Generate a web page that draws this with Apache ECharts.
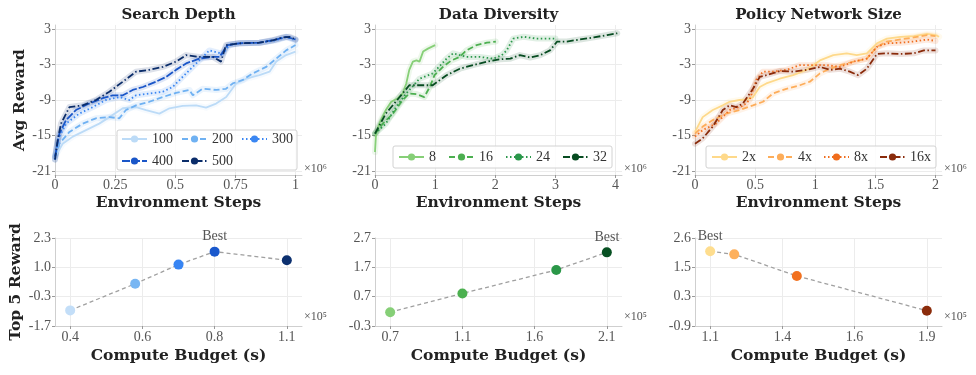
<!DOCTYPE html>
<html>
<head>
<meta charset="utf-8">
<script src="https://cdn.jsdelivr.net/npm/echarts@6/dist/echarts.min.js"></script>
<style>
html,body{margin:0;padding:0;background:#fff}
#main{width:976px;height:375px}
</style>
</head>
<body>
<div id="main"></div>
<script>
// ---- data: top row (x in millions of env steps, y = avg reward) ----
var depth100 = [[0,-18.6],[0.032,-16.4],[0.074,-15.2],[0.129,-14.1],[0.184,-13.0],[0.226,-11.9],[0.282,-10.4],[0.337,-10.2],[0.379,-10.7],[0.434,-11.3],[0.476,-10.4],[0.531,-10.0],[0.587,-9.9],[0.628,-10.3],[0.670,-9.6],[0.712,-8.5],[0.753,-6.2],[0.795,-5.4],[0.850,-4.8],[0.892,-4.2],[0.920,-2.5],[0.961,-1.4],[1.0,-0.8]];
var depth200 = [[0,-18.6],[0.018,-16.4],[0.060,-14.4],[0.115,-13.0],[0.170,-12.1],[0.226,-11.9],[0.267,-12.1],[0.295,-10.7],[0.337,-9.9],[0.392,-9.3],[0.448,-8.5],[0.503,-7.8],[0.559,-7.3],[0.573,-8.2],[0.614,-7.1],[0.670,-7.3],[0.711,-7.1],[0.739,-6.2],[0.781,-5.6],[0.822,-4.5],[0.878,-3.4],[0.920,-2.0],[0.961,-0.6],[1.0,0.3]];
var depth300 = [[0,-19.1],[0.011,-15.8],[0.046,-13.0],[0.101,-11.3],[0.157,-10.2],[0.212,-9.0],[0.268,-8.5],[0.309,-9.0],[0.337,-8.2],[0.392,-7.9],[0.448,-7.6],[0.489,-6.8],[0.545,-4.5],[0.600,-2.3],[0.642,-0.6],[0.670,-0.9],[0.698,-1.2],[0.725,0.3],[0.767,0.6],[0.850,0.7],[0.920,1.1],[0.961,1.7],[1.0,1.1]];
var depth400 = [[0,-18.6],[0.018,-14.7],[0.046,-12.4],[0.087,-10.7],[0.142,-9.6],[0.198,-8.7],[0.240,-8.2],[0.282,-8.2],[0.323,-7.3],[0.365,-6.8],[0.420,-5.9],[0.462,-5.1],[0.503,-3.9],[0.545,-2.8],[0.600,-2.0],[0.656,-1.7],[0.684,-1.7],[0.718,0.3],[0.767,0.6],[0.850,0.7],[0.920,1.25],[0.961,1.7],[1.0,1.25]];
var depth500 = [[0,-19.1],[0.011,-15.8],[0.025,-13.0],[0.060,-10.2],[0.115,-9.9],[0.170,-9.0],[0.226,-7.6],[0.282,-5.9],[0.337,-4.2],[0.392,-3.9],[0.448,-3.4],[0.503,-2.5],[0.545,-1.4],[0.600,-1.7],[0.656,-1.7],[0.690,-2.5],[0.711,0.3],[0.767,0.6],[0.850,0.7],[0.905,1.1],[0.947,1.6],[0.975,1.7],[1.0,1.25]];

var div8 = [[0,-17.8],[0.017,-14.7],[0.07,-13.0],[0.18,-10.7],[0.27,-9.3],[0.38,-8.7],[0.46,-7.9],[0.52,-6.2],[0.57,-3.9],[0.63,-2.5],[0.69,-2.3],[0.74,-2.5],[0.80,-0.8],[0.88,-0.3],[0.94,0.0],[1.0,0.3]];
var div16 = [[0,-14.7],[0.13,-13.0],[0.30,-11.3],[0.46,-9.0],[0.57,-7.9],[0.69,-8.0],[0.82,-8.5],[0.91,-6.8],[0.99,-4.8],[1.13,-3.4],[1.27,-2.3],[1.41,-1.7],[1.52,-0.6],[1.69,0.3],[1.86,0.7],[2.01,0.9]];
var div24 = [[0,-14.7],[0.18,-13.0],[0.35,-10.2],[0.52,-7.9],[0.74,-5.4],[0.96,-4.5],[1.19,-2.0],[1.30,-1.1],[1.41,-1.4],[1.52,-1.7],[1.74,-1.7],[1.97,-2.0],[2.11,-1.4],[2.19,-0.6],[2.30,1.4],[2.47,1.7],[2.69,1.4],[2.86,1.4],[3.0,1.4]];
var div32 = [[0,-14.7],[0.18,-11.3],[0.41,-8.5],[0.57,-6.5],[0.74,-6.5],[0.96,-6.5],[1.19,-4.8],[1.41,-3.7],[1.63,-3.1],[1.86,-2.5],[2.08,-2.1],[2.25,-2.0],[2.41,-1.4],[2.58,-1.8],[2.75,-1.4],[2.91,-0.6],[3.03,0.9],[3.19,0.9],[3.41,1.25],[3.64,1.6],[3.86,2.0],[4.03,2.3]];

var net2x = [[0,-14.4],[0.064,-11.9],[0.148,-10.7],[0.231,-9.9],[0.287,-9.3],[0.37,-9.0],[0.426,-8.9],[0.482,-8.5],[0.538,-6.8],[0.593,-6.2],[0.705,-5.4],[0.816,-4.8],[0.928,-3.9],[1.039,-2.3],[1.15,-1.4],[1.262,-1.1],[1.345,-1.4],[1.429,-1.1],[1.513,0.6],[1.596,1.4],[1.708,1.7],[1.819,1.8],[1.930,2.2],[2.0,2.0],[2.03,1.7]];
var net4x = [[0,-14.7],[0.064,-13.5],[0.148,-12.4],[0.259,-11.3],[0.37,-10.7],[0.482,-9.9],[0.565,-9.3],[0.649,-7.9],[0.76,-7.1],[0.872,-6.5],[0.955,-5.9],[1.039,-4.5],[1.123,-3.7],[1.206,-3.1],[1.318,-2.5],[1.429,-2.0],[1.513,0.0],[1.596,0.9],[1.708,1.25],[1.819,1.6],[1.930,2.0],[2.0,1.8]];
var net8x = [[0,-15.2],[0.064,-14.1],[0.175,-13.0],[0.287,-10.7],[0.398,-10.0],[0.454,-9.0],[0.51,-5.6],[0.565,-4.2],[0.649,-4.2],[0.76,-3.9],[0.872,-3.1],[0.983,-3.1],[1.095,-3.1],[1.206,-3.4],[1.318,-2.5],[1.429,-2.0],[1.513,0.0],[1.596,0.6],[1.708,0.7],[1.819,0.9],[1.930,1.25],[2.0,1.0]];
var net16x = [[0,-16.4],[0.064,-15.5],[0.148,-13.5],[0.231,-10.7],[0.287,-9.9],[0.343,-10.2],[0.398,-9.6],[0.482,-7.1],[0.538,-5.1],[0.593,-4.8],[0.705,-4.1],[0.816,-4.2],[0.928,-3.9],[1.039,-3.4],[1.123,-3.9],[1.206,-3.7],[1.287,-4.2],[1.357,-4.8],[1.429,-3.7],[1.513,-1.2],[1.596,-1.1],[1.708,-1.2],[1.819,-1.1],[1.903,-0.6],[2.0,-0.6]];

var depthNames = ['100', '200', '300', '400', '500'];
var divNames = ['8', '16', '24', '32'];
var netNames = ['2x', '4x', '8x', '16x'];

var depthColors = ['#bcdbf7', '#6fb1f2', '#3a86f2', '#1a56c8', '#0b2d6a'];
var divColors = ['#86cf77', '#4caf50', '#2a974a', '#074c21'];
var netColors = ['#fed98a', '#fdad5a', '#f06d1d', '#8a2b0b'];

var topYTicks = [-21, -15, -9, -3, 3];
var depthXTicks = [0, 0.25, 0.5, 0.75, 1];
var divXTicks = [0, 1, 2, 3, 4];
var netXTicks = [0, 0.5, 1, 1.5, 2];

// ---- data: bottom row (compute budget x1e5 s, top-5 reward) ----
var depthBudget = [0.4, 0.58, 0.7, 0.8, 1.1];
var depthTop5 = [-0.99, 0.22, 1.09, 1.68, 1.29];
var depthBudgetTicks = [0.4, 0.6, 0.8, 1.1];
var depthTop5Labels = ['-1.7', '-0.3', '1.0', '2.3'];

var divBudget = [0.7, 1.1, 1.75, 2.1];
var divTop5 = [0.17, 0.81, 1.61, 2.21];
var divBudgetTicks = [0.7, 1.1, 1.6, 2.1];
var divTop5Labels = ['-0.3', '0.7', '1.7', '2.7'];

var netBudget = [1.1, 1.2, 1.44, 1.9];
var netTop5 = [2.07, 1.95, 1.09, -0.29];
var netBudgetTicks = [1.1, 1.4, 1.6, 1.9];
var netTop5Labels = ['-0.9', '0.3', '1.5', '2.6'];

// ---- layout ----
var PANEL_LEFT = [55, 375, 695];
var PANEL_W = 247;
var TOP_Y = 25, TOP_H = 150;
var BOT_Y = 238, BOT_H = 88;
var DASHES = ['solid', [6, 3], [1.5, 2.5], [8, 2], [7, 2.5, 1.5, 2.5]];
var DASHES4 = ['solid', [6, 3], [1.5, 2.5], [7, 2.5, 1.5, 2.5]];

var SERIF = 'Liberation Serif';
var BOLD_SERIF = 'DejaVu Serif';

var grids = [], xAxes = [], yAxes = [], series = [], legends = [], graphics = [];

function axisParts(ticks, fmt) {
    return {
        axisLine: {show: true, onZero: false, lineStyle: {color: '#cfcfcf', width: 1}},
        axisTick: {show: true, length: 3, customValues: ticks, lineStyle: {color: '#999'}},
        axisLabel: {customValues: ticks, margin: 4, color: '#555', fontFamily: SERIF, fontSize: 14, formatter: fmt},
        splitLine: {show: true, customValues: ticks, lineStyle: {color: '#ececec', width: 1}}
    };
}

function nameStyle() {
    return {fontFamily: BOLD_SERIF, fontWeight: 'bold', fontSize: 15.5, color: '#222'};
}

function linspace(a, b, n) {
    var out = [];
    for (var i = 0; i < n; i++) out.push(a + (b - a) * i / (n - 1));
    return out;
}

// position of a budget on the evenly spaced tick axis
function tickPos(v, ticks) {
    for (var i = 0; i < ticks.length - 1; i++) {
        if (v <= ticks[i + 1]) return i + (v - ticks[i]) / (ticks[i + 1] - ticks[i]);
    }
    return ticks.length - 1;
}

//训练曲线
function addTopPanel(p, title, lines, names, colors, dashes, xTicks, yName, legendBox) {
    var gi = grids.length;
    var left = PANEL_LEFT[p];
    grids.push({left: left, top: TOP_Y, width: PANEL_W, height: TOP_H});
    var xMax = xTicks[xTicks.length - 1] * 1.027;
    xAxes.push(Object.assign({
        gridIndex: gi, type: 'value', min: 0, max: xMax,
        name: 'Environment Steps', nameLocation: 'middle', nameGap: 20, nameTextStyle: nameStyle()
    }, axisParts(xTicks, function (v) { return String(v); })));
    xAxes[gi].axisLabel.margin = 3;
    yAxes.push(Object.assign({
        gridIndex: gi, type: 'value', min: -21.7, max: 3.7,
        name: yName, nameLocation: 'middle', nameGap: 26, nameTextStyle: nameStyle()
    }, axisParts(topYTicks, function (v) { return String(v); })));

    for (var k = 0; k < lines.length; k++) {
        // shaded spread
        series.push({
            type: 'line', xAxisIndex: gi, yAxisIndex: gi, data: lines[k],
            symbol: 'none', silent: true, z: 1,
            lineStyle: {width: 6, color: colors[k], opacity: 0.14, cap: 'round', join: 'round'}
        });
        series.push({
            type: 'line', name: names[k], xAxisIndex: gi, yAxisIndex: gi, data: lines[k],
            symbol: 'circle', symbolSize: 8, showSymbol: false, z: 3,
            itemStyle: {color: colors[k]},
            lineStyle: {width: 1.8, color: colors[k], type: dashes[k]},
            emphasis: {disabled: true}
        });
    }
    legends.push({
        data: names, left: legendBox.left, top: legendBox.top, width: legendBox.width,
        orient: 'horizontal', itemWidth: 25, itemHeight: 9, itemGap: legendBox.gap,
        padding: legendBox.padding, selectedMode: false,
        backgroundColor: 'rgba(255,255,255,0.85)', borderColor: '#d2d2d2', borderWidth: 1, borderRadius: 2,
        textStyle: {fontFamily: SERIF, fontSize: 14, color: '#333'}
    });
    graphics.push({type: 'text', x: left + PANEL_W / 2, y: 15,
        style: {text: title, font: 'bold 15px "' + BOLD_SERIF + '"', fill: '#222', align: 'center', verticalAlign: 'middle'}});
    graphics.push({type: 'text', x: left + PANEL_W + 2, y: 169,
        style: {text: '×10⁶', font: '12px "' + SERIF + '"', fill: '#555', align: 'left', verticalAlign: 'middle'}});
}

//预算散点
function addBottomPanel(p, budget, top5, bTicks, yLabels, colors, yName) {
    var gi = grids.length;
    var left = PANEL_LEFT[p];
    grids.push({left: left, top: BOT_Y, width: PANEL_W, height: BOT_H});
    var yMin = Number(yLabels[0]), yMax = Number(yLabels[yLabels.length - 1]);
    var yTicks = linspace(yMin, yMax, yLabels.length);
    var xTicks = [0, 1, 2, 3];
    xAxes.push(Object.assign({
        gridIndex: gi, type: 'value', min: -0.21, max: 3.21,
        name: 'Compute Budget (s)', nameLocation: 'middle', nameGap: 22, nameTextStyle: nameStyle()
    }, axisParts(xTicks, function (v) { return String(bTicks[Math.round(v)]); })));
    yAxes.push(Object.assign({
        gridIndex: gi, type: 'value', min: yMin, max: yMax,
        name: yName, nameLocation: 'middle', nameGap: 31, nameTextStyle: nameStyle()
    }, axisParts(yTicks, function (v) {
        var best = 0;
        for (var i = 0; i < yTicks.length; i++) if (Math.abs(yTicks[i] - v) < Math.abs(yTicks[best] - v)) best = i;
        return yLabels[best];
    })));

    var pts = [], bestIdx = 0;
    for (var i = 0; i < budget.length; i++) if (top5[i] > top5[bestIdx]) bestIdx = i;
    for (var j = 0; j < budget.length; j++) {
        pts.push({
            value: [tickPos(budget[j], bTicks), top5[j]],
            itemStyle: {color: colors[j], opacity: 1},
            label: {show: j === bestIdx, formatter: 'Best', position: 'top', distance: 3,
                color: '#555', fontFamily: SERIF, fontSize: 14}
        });
    }
    series.push({
        type: 'line', xAxisIndex: gi, yAxisIndex: gi, symbol: 'none', silent: true, z: 1,
        data: pts.map(function (d) { return d.value; }),
        lineStyle: {color: '#a0a0a0', width: 1.3, type: [4, 3]}
    });
    series.push({
        type: 'scatter', xAxisIndex: gi, yAxisIndex: gi, symbolSize: 10, z: 3, data: pts,
        itemStyle: {opacity: 1},
        emphasis: {disabled: true}
    });
    graphics.push({type: 'text', x: left + PANEL_W + 2, y: 317,
        style: {text: '×10⁵', font: '12px "' + SERIF + '"', fill: '#555', align: 'left', verticalAlign: 'middle'}});
}

addTopPanel(0, 'Search Depth', [depth100, depth200, depth300, depth400, depth500], depthNames, depthColors, DASHES,
    depthXTicks, 'Avg Reward', {left: 117, top: 130, width: 185, gap: 8, padding: [2, 4, 2, 4]});
addTopPanel(1, 'Data Diversity', [div8, div16, div24, div32], divNames, divColors, DASHES4,
    divXTicks, '', {left: 393, top: 146, width: 215, gap: 12, padding: [4, 5, 4, 5]});
addTopPanel(2, 'Policy Network Size', [net2x, net4x, net8x, net16x], netNames, netColors, DASHES4,
    netXTicks, '', {left: 706, top: 146, width: 235, gap: 11, padding: [4, 5, 4, 5]});

addBottomPanel(0, depthBudget, depthTop5, depthBudgetTicks, depthTop5Labels,
    ['#c3def8', '#78b6f3', '#3885f3', '#1a58cc', '#0c306f'], 'Top 5 Reward');
addBottomPanel(1, divBudget, divTop5, divBudgetTicks, divTop5Labels,
    ['#86cf77', '#4cb050', '#2a9748', '#075022'], '');
addBottomPanel(2, netBudget, netTop5, netBudgetTicks, netTop5Labels,
    ['#fedd8e', '#fdb05c', '#f2711f', '#8b2c0b'], '');

var myChart = echarts.init(document.getElementById('main'));
myChart.setOption({
    animation: false,
    backgroundColor: '#fff',
    grid: grids,
    xAxis: xAxes,
    yAxis: yAxes,
    legend: legends,
    graphic: graphics,
    series: series
});
</script>
</body>
</html>
